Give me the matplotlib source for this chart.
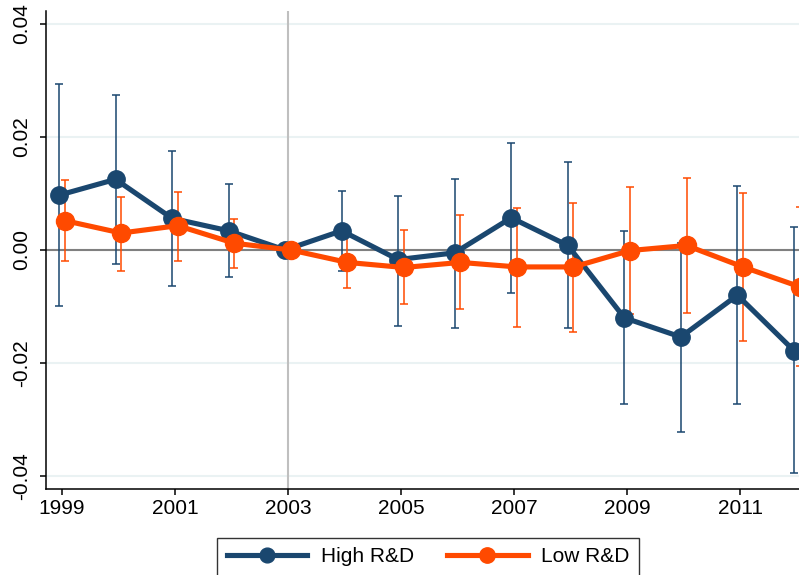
import numpy as np
import matplotlib
matplotlib.use("Agg")
import matplotlib.pyplot as plt

plt.rcParams['font.family'] = ['Liberation Sans', 'DejaVu Sans']

years = np.arange(1999, 2013)

# High R&D: point estimate and CI bounds
high = [0.0097, 0.0125, 0.0056, 0.0034, 0.0, 0.0034, -0.0017, -0.0005,
        0.0057, 0.0008, -0.0120, -0.0154, -0.0080, -0.0178]
high_hi = [0.0293, 0.0275, 0.0176, 0.0117, 0.0, 0.0104, 0.0096, 0.0126,
           0.0190, 0.0155, 0.0034, 0.0013, 0.0113, 0.0040]
high_lo = [-0.0100, -0.0025, -0.0064, -0.0048, 0.0, -0.0037, -0.0134, -0.0138,
           -0.0077, -0.0138, -0.0273, -0.0322, -0.0273, -0.0394]

# Low R&D
low = [0.0052, 0.0030, 0.0043, 0.0012, 0.0, -0.0022, -0.0031, -0.0022,
       -0.0030, -0.0030, -0.0001, 0.0008, -0.0030, -0.0065]
low_hi = [0.0123, 0.0094, 0.0103, 0.0054, 0.0, 0.0024, 0.0035, 0.0062,
          0.0074, 0.0084, 0.0112, 0.0127, 0.0101, 0.0076]
low_lo = [-0.0019, -0.0037, -0.0019, -0.0032, 0.0, -0.0067, -0.0096, -0.0105,
          -0.0136, -0.0145, -0.0113, -0.0111, -0.0161, -0.0206]

yticks = [-0.04, -0.02, 0.0, 0.02, 0.04]
ytick_labels = ["-0.04", "-0.02", "0.00", "0.02", "0.04"]
xticks = [1999, 2001, 2003, 2005, 2007, 2009, 2011]

navy = '#1a476f'
orange = '#ff4a00'

fig = plt.figure(figsize=(7.99, 5.75), dpi=100)
ax = fig.add_axes([0.0576, 0.1496, 0.9424, 0.8313])

off = 0.05
xb = years - off
xo = years + off

for y in yticks:
    ax.axhline(y, color='#eaf2f3', lw=1.5, zorder=0)
ax.axhline(0, color='#808080', lw=1.5, zorder=1)
ax.axvline(2003, color='#bfbfbf', lw=1.5, zorder=1)

hb = np.array(high)
ho = np.array(low)
ax.errorbar(xb, hb, yerr=[hb - np.array(high_lo), np.array(high_hi) - hb],
            fmt='none', ecolor=navy, elinewidth=1.1, capsize=2.8, capthick=1.1, zorder=2)
ax.errorbar(xo, ho, yerr=[ho - np.array(low_lo), np.array(low_hi) - ho],
            fmt='none', ecolor=orange, elinewidth=1.1, capsize=2.8, capthick=1.1, zorder=2)

ax.plot(xb, high, color=navy, lw=3.7, marker='o', ms=12.5, label='High R&D', zorder=3)
ax.plot(xo, low, color=orange, lw=3.7, marker='o', ms=13, label='Low R&D', zorder=4)

ax.set_xlim(1998.72, 2012.04)
ax.set_ylim(-0.0423, 0.0423)
ax.set_xticks(xticks)
ax.set_yticks(yticks)
ax.set_yticklabels(ytick_labels, rotation=90, va='center')
ax.tick_params(axis='y', length=4, width=1.1, pad=7, labelsize=15)
ax.tick_params(axis='x', length=4.5, width=1.1, pad=3, labelsize=15)

for s in ['top', 'right']:
    ax.spines[s].set_visible(False)
for s in ['left', 'bottom']:
    ax.spines[s].set_linewidth(1.1)

leg = fig.legend(loc='upper center', bbox_to_anchor=(0.536, 0.0643), ncol=2,
                 fontsize=15, frameon=True, fancybox=False, edgecolor='black',
                 handlelength=3.85, handletextpad=0.67, columnspacing=1.6,
                 borderpad=0.45, borderaxespad=0, markerscale=0.85)
leg.get_frame().set_linewidth(1.0)

fig.savefig('out.png', dpi=100)
